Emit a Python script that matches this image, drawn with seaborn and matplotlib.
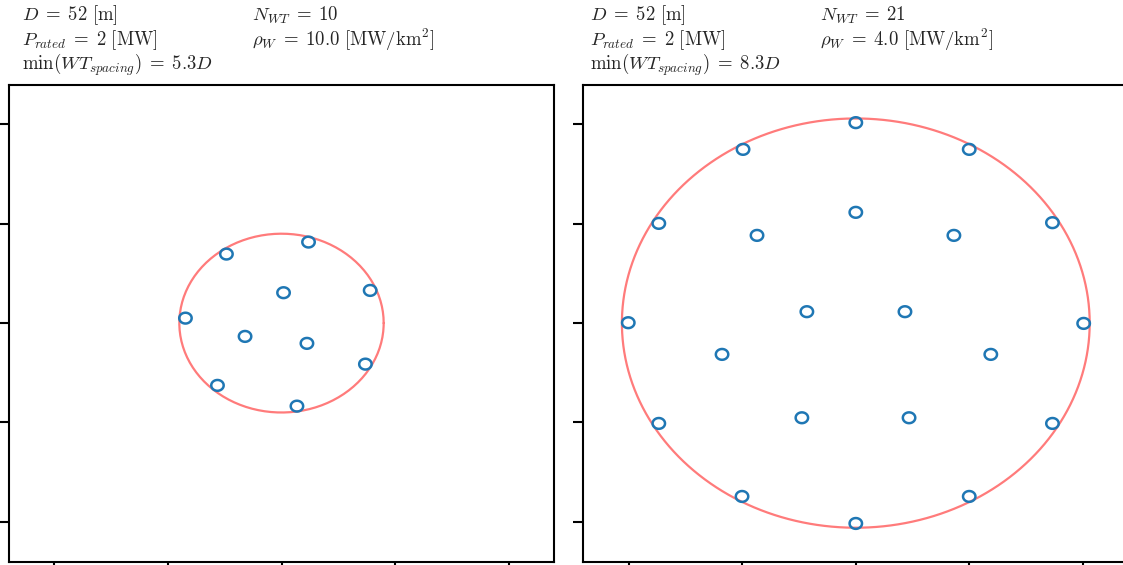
import numpy as np
import pandas as pd
import matplotlib
matplotlib.use("Agg")
import matplotlib.pyplot as plt
from matplotlib.path import Path
from matplotlib.markers import MarkerStyle
import seaborn as sns

# ---- data (axis units = tick spacing) ----
left_x = [-0.485, 0.238, 0.018, 0.781, -0.846, -0.321, 0.224, 0.739, -0.564, 0.136]
left_y = [0.695, 0.816, 0.306, 0.329, 0.050, -0.134, -0.204, -0.413, -0.627, -0.836]
right_x = [0.00, -0.993, 0.999, -1.735, 1.732, 0.00, -0.870, 0.864, -2.004, 2.007,
           -0.431, 0.433, -1.178, 1.189, -1.735, 1.732, -0.475, 0.469, -1.002, 0.999, 0.00]
right_y = [2.018, 1.749, 1.749, 1.004, 1.011, 1.115, 0.883, 0.883, 0.004, -0.003,
           0.115, 0.115, -0.315, -0.315, -1.010, -1.010, -0.953, -0.953, -1.745, -1.745, -2.017]
boundary_radius = [0.90, 2.06]
rotor_diam = ["52", "52"]
p_rated = ["2", "2"]
n_wt = ["10", "21"]
rho_w = ["10.0", "4.0"]
min_spacing = ["5.3", "8.3"]
ticks = [-2, -1, 0, 1, 2]

sns.set_style("ticks")
plt.rcParams["mathtext.fontset"] = "cm"
plt.rcParams["font.family"] = ["DejaVu Serif"]

fig = plt.figure(figsize=(11.23, 5.65), dpi=100)
W, H = 1123, 565

# slightly wide ellipse marker (reference is horizontally stretched)
th = np.linspace(0, 2 * np.pi, 60)
ell = Path(np.column_stack([1.15 * np.cos(th), np.sin(th)]), closed=True)
marker = MarkerStyle(ell)

axes_left_px = [9, 583.3]
ax_w = 545
ax_top, ax_bot = 84.7, 561.5
text_x = [(22, 252), (590, 820)]
line_y = [15, 40, 65]

EQ = r"\;=\;"

datasets = [(left_x, left_y), (right_x, right_y)]
for i, (xs, ys) in enumerate(datasets):
    ax = fig.add_axes([axes_left_px[i] / W, (H - ax_bot) / H, ax_w / W, (ax_bot - ax_top) / H])
    r = boundary_radius[i]
    t = np.linspace(0, 2 * np.pi, 200)
    ax.plot(r * np.cos(t), r * np.sin(t), color="#ff7b7b", lw=1.6, zorder=1)
    df = pd.DataFrame({"x": xs, "y": ys})
    sns.scatterplot(data=df, x="x", y="y", ax=ax, marker=marker, s=80,
                    facecolor="none", edgecolor="#1f77b4", linewidth=1.8, zorder=2)
    ax.set_xlim(-2.4, 2.4)
    ax.set_ylim(-2.4, 2.4)
    ax.set_xticks(ticks)
    ax.set_yticks(ticks)
    ax.set_xticklabels([])
    ax.set_yticklabels([])
    ax.set_xlabel("")
    ax.set_ylabel("")
    for sp in ax.spines.values():
        sp.set_color("black")
        sp.set_linewidth(1.5)
    ax.tick_params(length=7, width=1.5, color="black")

    x1, x2 = text_x[i]
    fs = 13.5
    fig.text(x1 / W, 1 - line_y[0] / H, rf"$D{EQ}{rotor_diam[i]}\ [\mathrm{{m}}]$", fontsize=fs, va="center")
    fig.text(x1 / W, 1 - line_y[1] / H, rf"$P_{{rated}}{EQ}{p_rated[i]}\ [\mathrm{{MW}}]$", fontsize=fs, va="center")
    fig.text(x1 / W, 1 - line_y[2] / H, rf"$\min(WT_{{spacing}}){EQ}{min_spacing[i]}D$", fontsize=fs, va="center")
    fig.text(x2 / W, 1 - line_y[0] / H, rf"$N_{{WT}}{EQ}{n_wt[i]}$", fontsize=fs, va="center")
    fig.text(x2 / W, 1 - line_y[1] / H, rf"$\rho_W{EQ}{rho_w[i]}\ [\mathrm{{MW/km^2}}]$", fontsize=fs, va="center")

fig.savefig("out.png", dpi=100)
